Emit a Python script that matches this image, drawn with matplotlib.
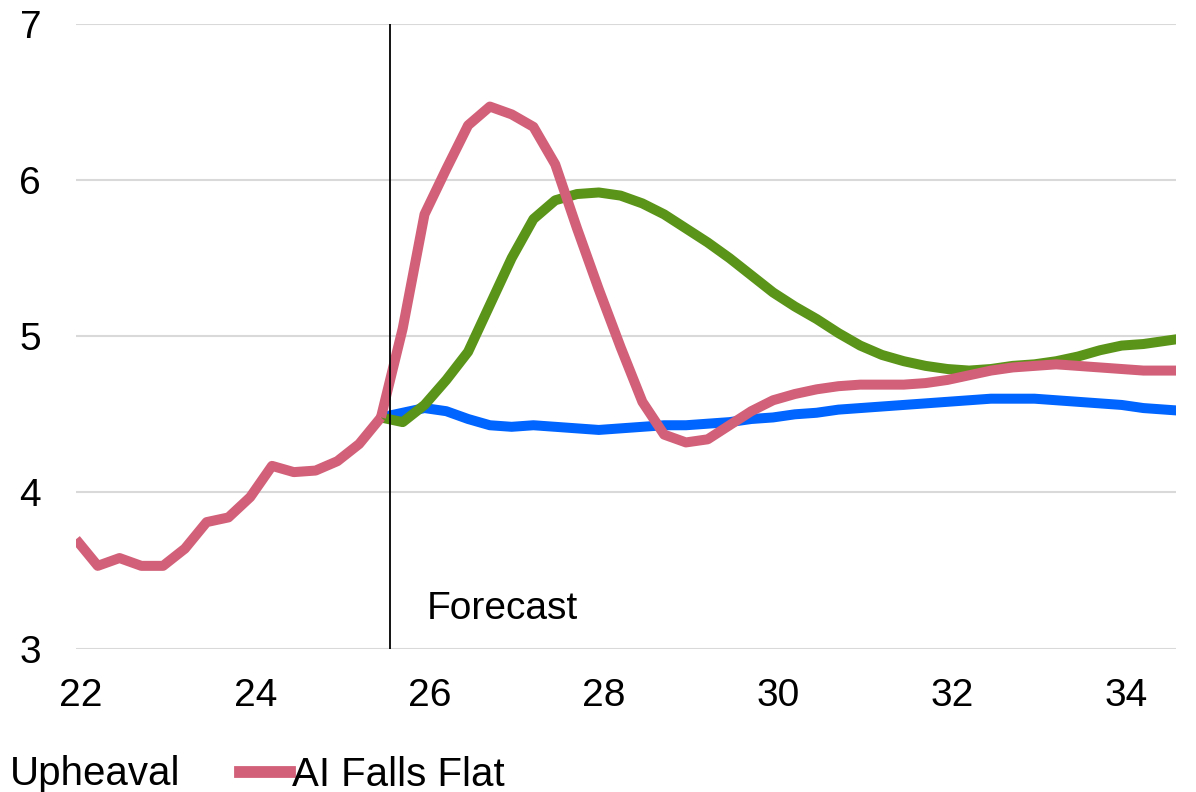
import numpy as np
import matplotlib
matplotlib.use("Agg")
import matplotlib.pyplot as plt
import matplotlib.transforms as mtransforms
from matplotlib.lines import Line2D

plt.rcParams['font.family'] = ['Liberation Sans', 'DejaVu Sans']

# Quarterly rate, history up to the forecast start
history = [3.70, 3.53, 3.58, 3.53, 3.53, 3.64, 3.81, 3.84, 3.97, 4.17,
           4.13, 4.14, 4.20, 4.31, 4.48]

# Scenario paths, starting from the last actual quarter
baseline = [4.48, 4.51, 4.54, 4.52, 4.47, 4.43, 4.42, 4.43, 4.42, 4.41,
            4.40, 4.41, 4.42, 4.43, 4.43, 4.44, 4.45, 4.47, 4.48, 4.50,
            4.51, 4.53, 4.54, 4.55, 4.56, 4.57, 4.58, 4.59, 4.60, 4.60,
            4.60, 4.59, 4.58, 4.57, 4.56, 4.54, 4.53, 4.52]
upheaval = [4.48, 4.45, 4.56, 4.72, 4.90, 5.20, 5.50, 5.75, 5.87, 5.91,
            5.92, 5.90, 5.85, 5.78, 5.69, 5.60, 5.50, 5.39, 5.28, 5.19,
            5.11, 5.02, 4.94, 4.88, 4.84, 4.81, 4.79, 4.78, 4.79, 4.81,
            4.82, 4.84, 4.87, 4.91, 4.94, 4.95, 4.97, 4.99]
falls_flat = [4.48, 5.05, 5.78, 6.07, 6.35, 6.47, 6.42, 6.34, 6.10, 5.69,
              5.30, 4.93, 4.58, 4.37, 4.32, 4.34, 4.43, 4.52, 4.59, 4.63,
              4.66, 4.68, 4.69, 4.69, 4.69, 4.70, 4.72, 4.75, 4.78, 4.80,
              4.81, 4.82, 4.81, 4.80, 4.79, 4.78, 4.78, 4.78]

xticks = [22, 24, 26, 28, 30, 32, 34]
yticks = [3, 4, 5, 6, 7]
forecast_start = 25.6

c_blue = '#0064ff'
c_green = '#5a9418'
c_pink = '#d16078'

n_hist = len(history)
x_hist = 22 + 0.25 * np.arange(n_hist)
x_fc = 22 + 0.25 * np.arange(n_hist - 1, n_hist - 1 + len(baseline))

fig = plt.figure(figsize=(11.96, 7.92), dpi=100)
ax = fig.add_axes([0.0635, 0.181, 0.9195, 0.789])

lw = 7.2
ax.plot(x_fc, baseline, color=c_blue, lw=lw, solid_capstyle='butt', zorder=3)
ax.plot(x_fc, upheaval, color=c_green, lw=lw, solid_capstyle='butt', zorder=4)
ax.plot(x_fc, falls_flat, color=c_pink, lw=lw, solid_capstyle='butt', zorder=5)
ax.plot(x_hist, history, color=c_pink, lw=lw, solid_capstyle='butt', zorder=5)

ax.axvline(forecast_start, color='black', lw=1.3, zorder=6)
ax.text(26.02, 3.19, 'Forecast', fontsize=28, va='baseline', ha='left')

ax.set_xlim(22, 34.62)
ax.set_ylim(3, 7)
ax.set_xticks(xticks)
ax.set_yticks(yticks)
ax.set_xticklabels([str(t) for t in xticks])
ax.grid(axis='y', color='#d9d9d9', lw=1.5, zorder=0)
ax.set_axisbelow(True)
for s in ax.spines.values():
    s.set_visible(False)
ax.tick_params(axis='both', length=0, labelsize=28)
ax.tick_params(axis='x', pad=21)
ax.tick_params(axis='y', pad=25)

# nudge the year labels a little to the right
shift = mtransforms.ScaledTranslation(0.05, 0, fig.dpi_scale_trans)
for lab in ax.get_xticklabels():
    lab.set_transform(lab.get_transform() + shift)

# Legend row under the plot
fig.text(0.008, 0.009, 'Upheaval', fontsize=29, ha='left', va='baseline')
handle = Line2D([], [], color=c_pink, lw=8.5)
fig.legend([handle], ['AI Falls Flat'], loc='center left',
           bbox_to_anchor=(0.2007, 0.0215), frameon=False, fontsize=29,
           handlelength=1.24, handletextpad=0.05, borderpad=0,
           borderaxespad=0)

fig.savefig('out.png', dpi=100, facecolor='white')
